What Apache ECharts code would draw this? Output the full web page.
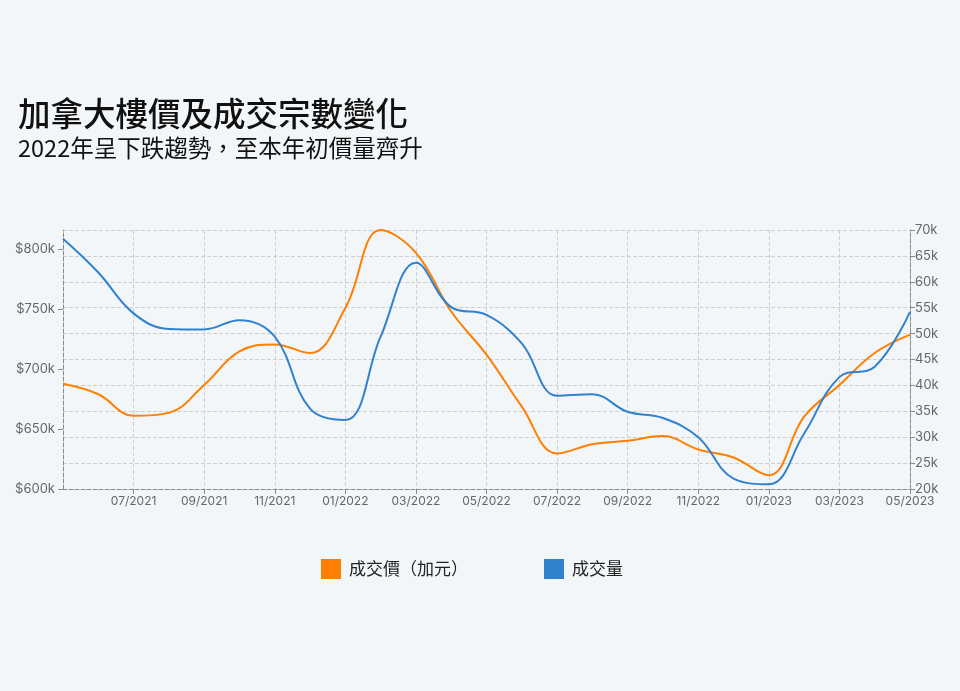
<!DOCTYPE html>
<html lang="zh-Hant">
<head>
    <meta charset="UTF-8">
    <title>加拿大樓價及成交宗數變化</title>
    <script src="https://cdn.jsdelivr.net/npm/echarts@6/dist/echarts.min.js"></script>
    <style>
        html, body { margin: 0; padding: 0; background: #f3f6f9; }
    </style>
</head>
<body>
    <div id="main" style="width: 960px; height: 691px;"></div>

    <script>
        // months, 05/2021 - 05/2023
        var months = ['05/2021', '06/2021', '07/2021', '08/2021', '09/2021', '10/2021', '11/2021', '12/2021',
            '01/2022', '02/2022', '03/2022', '04/2022', '05/2022', '06/2022', '07/2022', '08/2022',
            '09/2022', '10/2022', '11/2022', '12/2022', '01/2023', '02/2023', '03/2023', '04/2023', '05/2023'];

        // 成交價 (CAD)
        var prices = [687700, 679000, 661000, 663500, 686800, 714700, 720600, 713400,
            751000, 816000, 797000, 748000, 712000, 668700, 629600, 637400,
            640200, 644100, 633000, 626300, 611500, 660300, 686800, 713400, 728700];

        // 成交量
        var volumes = [68300, 61800, 53900, 50900, 50800, 52600, 49400, 35500,
            33300, 49400, 63700, 55100, 53600, 48100, 38000, 38300,
            34900, 33700, 30000, 22000, 20900, 30700, 41600, 43600, 54200];

        var priceTicks = [600000, 650000, 700000, 750000, 800000];

        var fontFamily = '"Noto Sans CJK TC", "Noto Sans", sans-serif';
        var labelFont = 'Inter, "Noto Sans", sans-serif';

        // show every second month but not the first one
        function everyOther(idx) {
            return idx > 0 && idx % 2 === 0;
        }

        var chart = echarts.init(document.getElementById('main'));

        var option = {
            backgroundColor: '#f3f6f9',
            title: {
                text: '加拿大樓價及成交宗數變化',
                subtext: '2022年呈下跌趨勢，至本年初價量齊升',
                left: 13,
                top: 92,
                itemGap: 7,
                textStyle: {
                    fontFamily: fontFamily,
                    fontSize: 32.5,
                    fontWeight: 500,
                    color: '#111'
                },
                subtextStyle: {
                    fontFamily: fontFamily,
                    fontSize: 23.5,
                    fontWeight: 'normal',
                    color: '#111'
                }
            },
            legend: {
                left: 316,
                top: 554,
                icon: 'rect',
                itemWidth: 20,
                itemHeight: 20,
                itemGap: 76,
                textStyle: {
                    fontFamily: fontFamily,
                    fontSize: 17,
                    color: '#222',
                    padding: [0, 0, 0, 3]
                },
                data: ['成交價（加元）', '成交量']
            },
            grid: {
                left: 63,
                right: 50,
                top: 230,
                bottom: 202
            },
            xAxis: {
                type: 'category',
                data: months,
                boundaryGap: false,
                axisLine: {
                    lineStyle: { color: '#8a8a8a', type: 'dashed' }
                },
                axisTick: {
                    interval: everyOther,
                    length: 5,
                    lineStyle: { color: '#8a8a8a' }
                },
                axisLabel: {
                    interval: everyOther,
                    color: '#666',
                    fontSize: 12,
                    fontFamily: labelFont,
                    margin: 6
                },
                splitLine: {
                    show: true,
                    interval: everyOther,
                    lineStyle: { color: '#cfcfcf', type: 'dashed' }
                }
            },
            yAxis: [
                {
                    type: 'value',
                    position: 'left',
                    min: 600000,
                    max: 816000,
                    interval: 50000,
                    axisLine: {
                        show: true,
                        lineStyle: { color: '#8a8a8a', type: 'dashed' }
                    },
                    axisTick: {
                        show: true,
                        length: 5,
                        customValues: priceTicks,
                        lineStyle: { color: '#8a8a8a' }
                    },
                    axisLabel: {
                        customValues: priceTicks,
                        color: '#666',
                        fontSize: 13,
                        fontFamily: labelFont,
                        margin: 8,
                        formatter: function (v) {
                            return '$' + (v / 1000) + 'k';
                        }
                    },
                    splitLine: { show: false }
                },
                {
                    type: 'value',
                    position: 'right',
                    min: 20000,
                    max: 70000,
                    interval: 5000,
                    axisLine: {
                        show: true,
                        lineStyle: { color: '#8a8a8a', type: 'dashed' }
                    },
                    axisTick: {
                        show: true,
                        length: 5,
                        lineStyle: { color: '#8a8a8a' }
                    },
                    axisLabel: {
                        color: '#666',
                        fontSize: 13,
                        fontFamily: labelFont,
                        margin: 5,
                        formatter: function (v) {
                            return (v / 1000) + 'k';
                        }
                    },
                    splitLine: {
                        show: true,
                        lineStyle: { color: '#cfcfcf', type: 'dashed' }
                    }
                }
            ],
            series: [
                {
                    name: '成交價（加元）',
                    type: 'line',
                    yAxisIndex: 0,
                    data: prices,
                    smooth: 0.4,
                    showSymbol: false,
                    color: '#ff7f00',
                    lineStyle: { width: 2 }
                },
                {
                    name: '成交量',
                    type: 'line',
                    yAxisIndex: 1,
                    data: volumes,
                    smooth: 0.4,
                    showSymbol: false,
                    color: '#3182ce',
                    lineStyle: { width: 2 }
                }
            ]
        };

        chart.setOption(option);
    </script>
</body>
</html>
